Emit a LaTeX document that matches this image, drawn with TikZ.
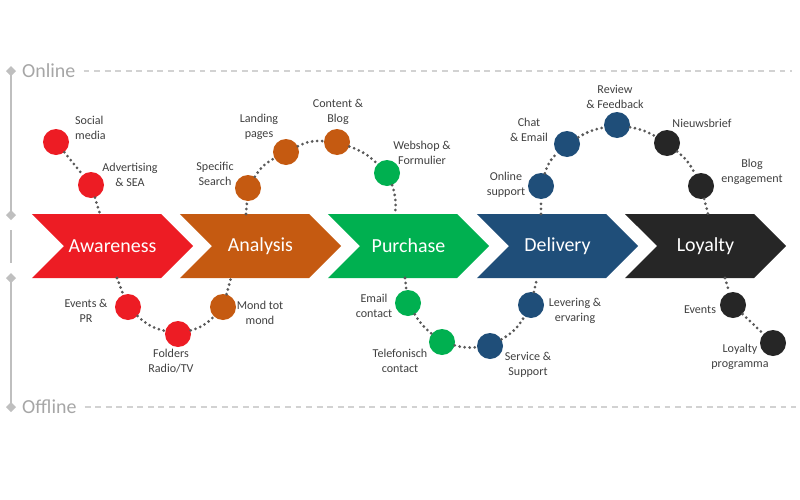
\documentclass[tikz,border=0pt]{standalone}
\usepackage{fontspec}
\setmainfont{Carlito}
\usetikzlibrary{shapes.symbols}

\definecolor{awred}{RGB}{237,28,36}
\definecolor{anorange}{RGB}{197,90,17}
\definecolor{pugreen}{RGB}{0,176,80}
\definecolor{deblue}{RGB}{31,78,121}
\definecolor{loblack}{RGB}{38,38,38}
\definecolor{axisgray}{RGB}{191,191,191}
\definecolor{guidegray}{RGB}{210,210,210}
\definecolor{headgray}{RGB}{166,166,166}
\definecolor{dotgray}{RGB}{89,89,89}
\definecolor{txtgray}{RGB}{64,64,64}

\tikzset{
	phase/.style = {signal, signal from = west, signal to = east, fill = #1,
		minimum width = 4.83cm, minimum height = 1.92cm, inner sep = 0pt,
		text = white, font = \fontsize{17}{20}\selectfont},
	touch/.style = {circle, fill = #1, minimum size = 0.78cm, inner sep = 0pt},
	lbl/.style = {align = center, text = txtgray, font = \fontsize{10.3}{12.8}\selectfont},
	dots/.style = {dotgray, line width = 2.6pt, line cap = round, dash pattern = on 0pt off 4.3pt},
	axisline/.style = {axisgray, line width = 2.4pt},
	guide/.style = {guidegray, line width = 1.2pt, dash pattern = on 5pt off 4pt},
	head/.style = {text = headgray, font = \fontsize{17}{20}\selectfont, anchor = west, inner sep = 0pt}
}

\begin{document}
\begin{tikzpicture}[x = 0.03cm, y = -0.03cm]
	 \useasboundingbox (0, 0) rectangle (800, 500);
	 
	 % online / offline axis
	 \draw[axisline] (11, 71) -- (11, 213);
	 \draw[axisline] (11, 230) -- (11, 263);
	 \draw[axisline] (11, 278) -- (11, 407);
	 \foreach \y in {71, 215, 278, 407}
	 \fill[axisgray] (11, \y) +(0, -5) -- +(5, 0) -- +(0, 5) -- +(-5, 0) -- cycle;
	 
	 \node[head] (online) at (22, 71) {Online};
	 \node[head] (offline) at (22, 407) {Offline};
	 \draw[guide] (online.east) ++(8, 0) -- (792, 71);
	 \draw[guide] (offline.east) ++(8, 0) -- (796, 407);
	 
	 % phases
	 \node[phase = awred] (aware) at (112.5, 246) {Awareness};
	 \node[phase = anorange] (analysis) at (260.5, 246) {Analysis};
	 \node[phase = pugreen] (purchase) at (408.5, 246) {Purchase};
	 \node[phase = deblue] (delivery) at (557.5, 246) {Delivery};
	 \node[phase = loblack] (loyalty) at (705.5, 246) {Loyalty};
	 
	 \coordinate (awT) at (100, 214);
	 \coordinate (awB) at (117, 278);
	 \coordinate (anT) at (246, 214);
	 \coordinate (anB) at (231, 278);
	 \coordinate (puT) at (395, 214);
	 \coordinate (puB) at (405, 278);
	 \coordinate (deT) at (541, 214);
	 \coordinate (deB) at (537, 278);
	 \coordinate (loT) at (708, 214);
	 \coordinate (loB) at (725, 278);
	 
	 % online touchpoints
	 \node[touch = awred] (social) at (56, 142) {};
	 \node[touch = awred] (advert) at (91, 185) {};
	 \node[touch = anorange] (specific) at (248, 188) {};
	 \node[touch = anorange] (landing) at (286, 152) {};
	 \node[touch = anorange] (content) at (337, 142) {};
	 \node[touch = pugreen] (webshop) at (387, 173) {};
	 \node[touch = deblue] (support) at (541, 186) {};
	 \node[touch = deblue] (chat) at (567, 144) {};
	 \node[touch = deblue] (review) at (617, 125) {};
	 \node[touch = loblack] (nieuws) at (667, 143) {};
	 \node[touch = loblack] (blog) at (701, 186) {};
	 
	 % offline touchpoints
	 \node[touch = awred] (eventspr) at (128, 307) {};
	 \node[touch = awred] (folders) at (178, 334) {};
	 \node[touch = anorange] (mond) at (223, 307) {};
	 \node[touch = pugreen] (email) at (408, 303) {};
	 \node[touch = pugreen] (telefoon) at (442, 342) {};
	 \node[touch = deblue] (service) at (490, 346) {};
	 \node[touch = deblue] (levering) at (531, 305) {};
	 \node[touch = loblack] (events) at (733, 305) {};
	 \node[touch = loblack] (programma) at (773, 343) {};
	 
	 % labels
	 \node[lbl, align = left, anchor = west] (l-social) at (71, 128) {Social\\media};
	 \node[lbl] (l-advert) at (130, 175) {Advertising\\\& SEA};
	 \node[lbl] (l-specific) at (215, 174) {Specific\\Search};
	 \node[lbl] (l-landing) at (259, 127) {Landing\\pages};
	 \node[lbl] (l-content) at (338, 112) {Content \&\\Blog};
	 \node[lbl] (l-webshop) at (422, 153) {Webshop \&\\Formulier};
	 \node[lbl] (l-support) at (506, 185) {Online\\support};
	 \node[lbl] (l-chat) at (529, 130) {Chat\\\& Email};
	 \node[lbl] (l-review) at (615, 97) {Review\\\& Feedback};
	 \node[lbl] (l-nieuws) at (702, 123) {Nieuwsbrief};
	 \node[lbl] (l-blog) at (752, 172) {Blog\\engagement};
	 \node[lbl] (l-eventspr) at (86, 311) {Events \&\\PR};
	 \node[lbl] (l-folders) at (171, 361) {Folders\\Radio/TV};
	 \node[lbl] (l-mond) at (260, 313) {Mond tot\\mond};
	 \node[lbl] (l-email) at (374, 306) {Email\\contact};
	 \node[lbl] (l-telefoon) at (400, 361) {Telefonisch\\contact};
	 \node[lbl] (l-service) at (528, 365) {Service \&\\Support};
	 \node[lbl] (l-levering) at (575, 311) {Levering \&\\ervaring};
	 \node[lbl] (l-events) at (700, 310) {Events};
	 \node[lbl] (l-programma) at (740, 357) {Loyalty\\programma};
	 
	 % dotted journeys
	 \draw[dots] (social) -- (advert);
	 \draw[dots] (advert) -- (awT);
	 \draw[dots] (anT) -- (specific);
	 \draw[dots] (specific) to[bend left = 15] (landing);
	 \draw[dots] (landing) to[bend left = 15] (content);
	 \draw[dots] (content) to[bend left = 12] (webshop);
	 \draw[dots] (webshop) to[bend left = 12] (puT);
	 \draw[dots] (deT) -- (support);
	 \draw[dots] (support) to[bend left = 15] (chat);
	 \draw[dots] (chat) to[bend left = 10] (review);
	 \draw[dots] (review) to[bend left = 10] (nieuws);
	 \draw[dots] (nieuws) to[bend left = 12] (blog);
	 \draw[dots] (blog) -- (loT);
	 
	 \draw[dots] (awB) -- (eventspr);
	 \draw[dots] (eventspr) to[bend right = 15] (folders);
	 \draw[dots] (folders) to[bend right = 15] (mond);
	 \draw[dots] (mond) -- (anB);
	 \draw[dots] (puB) -- (email);
	 \draw[dots] (email) to[bend right = 10] (telefoon);
	 \draw[dots] (telefoon) to[bend right = 10] (service);
	 \draw[dots] (service) to[bend right = 15] (levering);
	 \draw[dots] (levering) -- (deB);
	 \draw[dots] (loB) -- (events);
	 \draw[dots] (events) -- (programma);
\end{tikzpicture}
\end{document}
